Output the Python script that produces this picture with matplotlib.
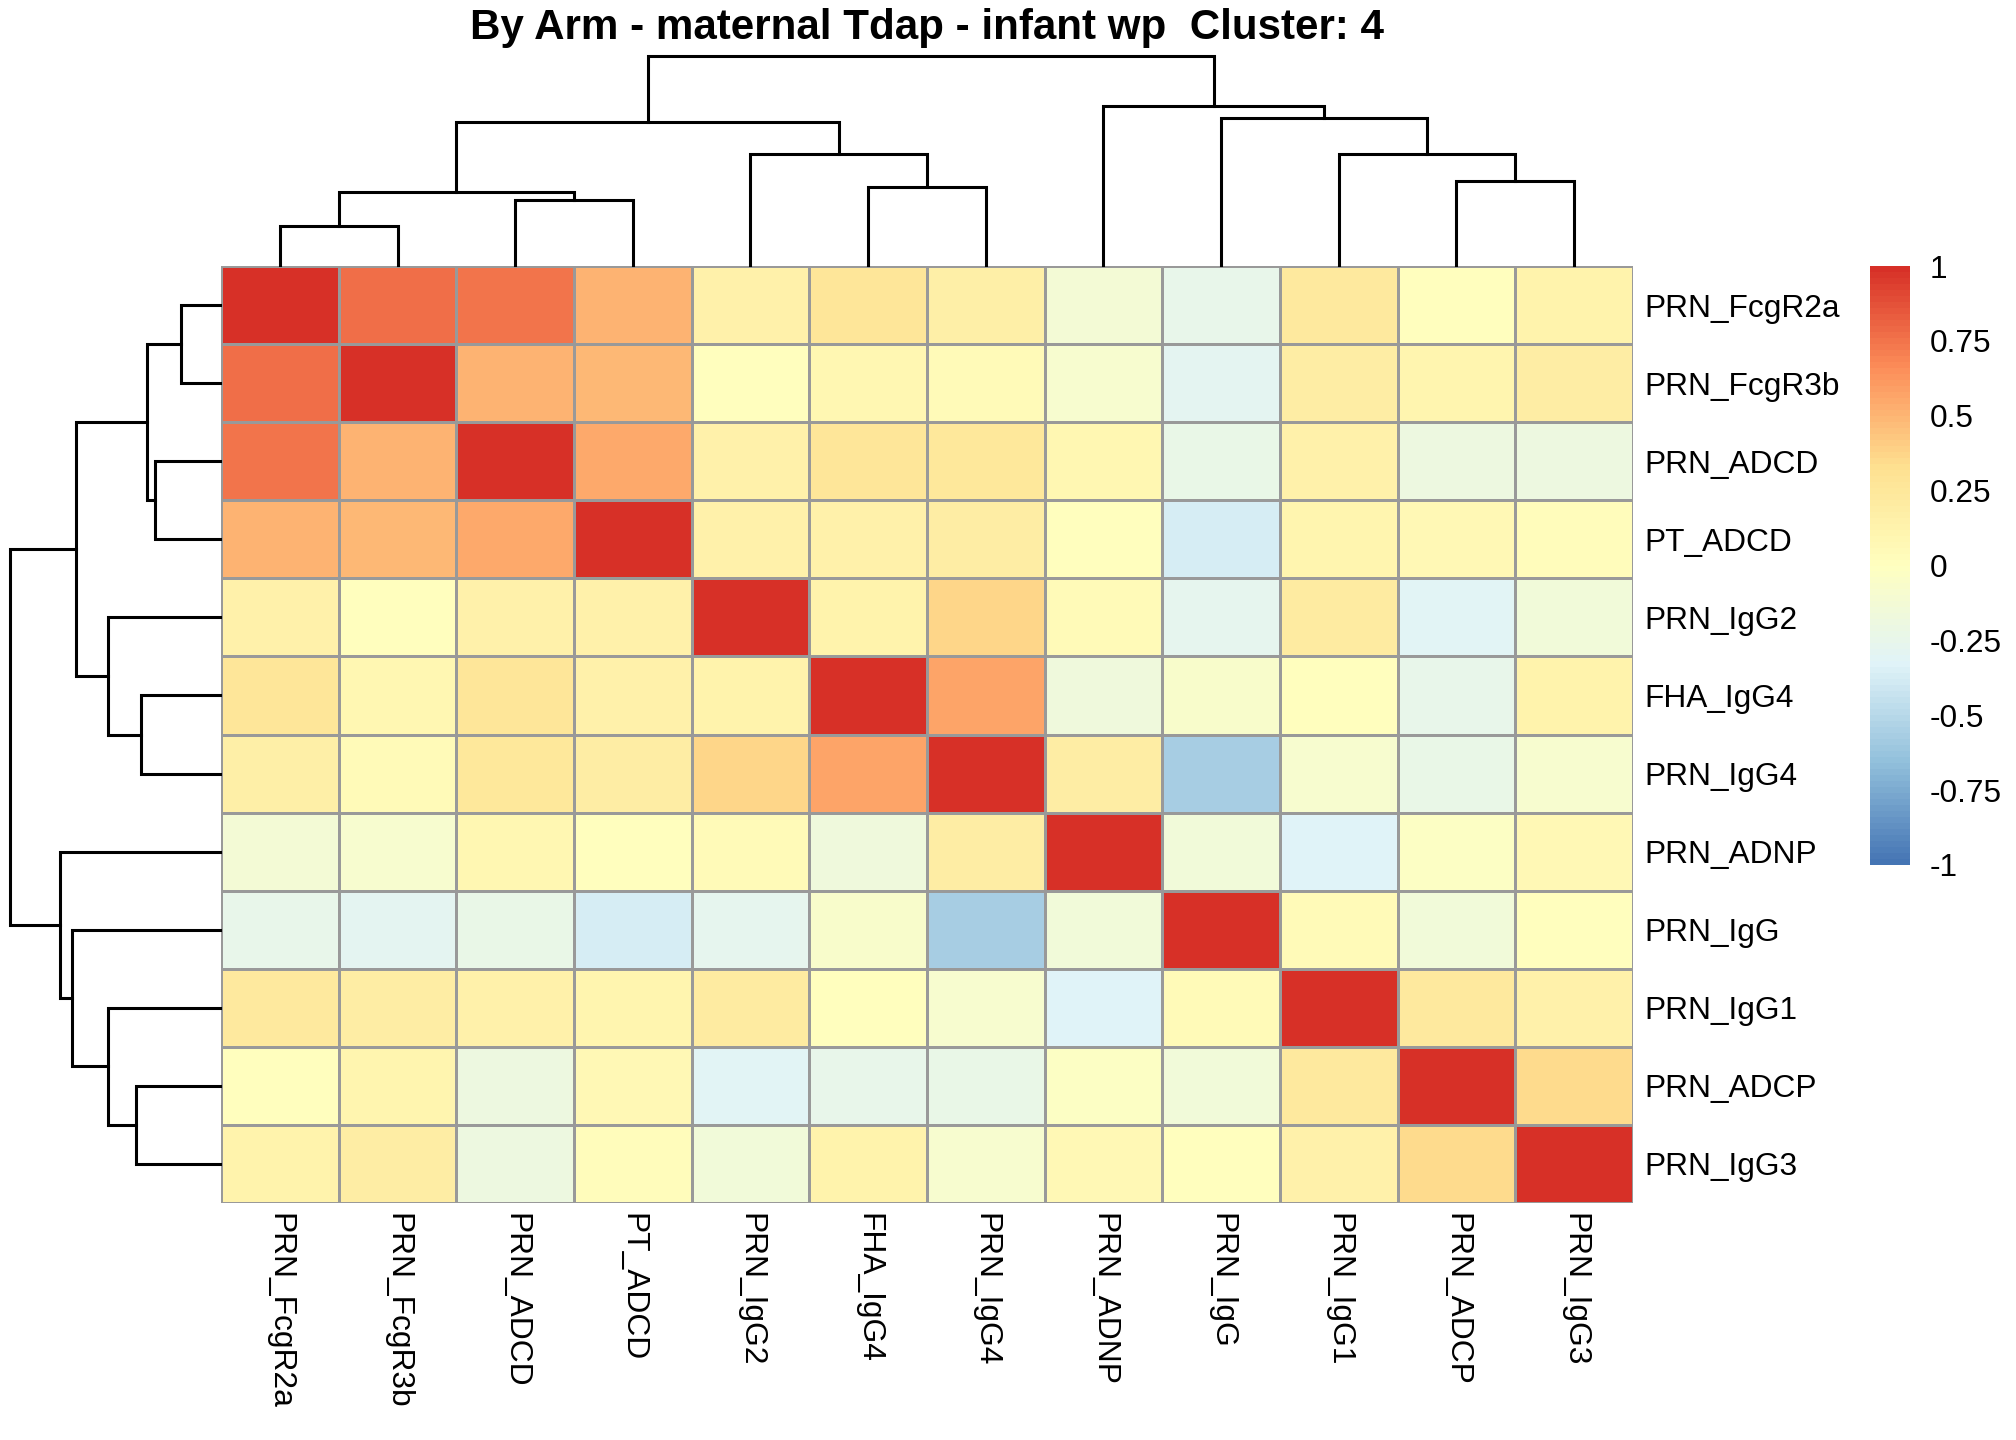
import numpy as np
import matplotlib
matplotlib.use("Agg")
import matplotlib.pyplot as plt
from matplotlib.colors import LinearSegmentedColormap

# ---------------- data ----------------
labels = ["PRN_FcgR2a", "PRN_FcgR3b", "PRN_ADCD", "PT_ADCD", "PRN_IgG2", "FHA_IgG4",
          "PRN_IgG4", "PRN_ADNP", "PRN_IgG", "PRN_IgG1", "PRN_ADCP", "PRN_IgG3"]

corr = [
    [1.00, 0.77, 0.75, 0.50, 0.14, 0.27, 0.17, -0.14, -0.25, 0.22, 0.01, 0.13],
    [0.77, 1.00, 0.51, 0.48, 0.01, 0.08, 0.05, -0.10, -0.30, 0.19, 0.11, 0.19],
    [0.75, 0.51, 1.00, 0.54, 0.14, 0.27, 0.25, 0.08, -0.24, 0.15, -0.19, -0.20],
    [0.50, 0.48, 0.54, 1.00, 0.15, 0.15, 0.19, 0.00, -0.37, 0.11, 0.06, 0.035],
    [0.14, 0.01, 0.14, 0.15, 1.00, 0.13, 0.36, 0.04, -0.28, 0.20, -0.32, -0.15],
    [0.27, 0.08, 0.27, 0.15, 0.13, 1.00, 0.56, -0.17, -0.07, 0.005, -0.26, 0.13],
    [0.17, 0.05, 0.25, 0.19, 0.36, 0.56, 1.00, 0.18, -0.57, -0.10, -0.24, -0.10],
    [-0.14, -0.10, 0.08, 0.00, 0.04, -0.17, 0.18, 1.00, -0.15, -0.33, -0.035, 0.075],
    [-0.25, -0.30, -0.24, -0.37, -0.28, -0.07, -0.57, -0.15, 1.00, 0.05, -0.155, 0.00],
    [0.22, 0.19, 0.15, 0.11, 0.20, 0.005, -0.10, -0.33, 0.05, 1.00, 0.23, 0.16],
    [0.01, 0.11, -0.19, 0.06, -0.32, -0.26, -0.24, -0.035, -0.155, 0.23, 1.00, 0.35],
    [0.13, 0.19, -0.20, 0.035, -0.15, 0.13, -0.10, 0.075, 0.00, 0.16, 0.35, 1.00],
]

# hierarchical merges (same tree for rows and columns): child a, child b, height
merge_a = [0, 2, 12, 5, 4, 14, 10, 9, 8, 7, 17]
merge_b = [1, 3, 13, 6, 15, 16, 11, 18, 19, 20, 21]
merge_h = [0.185, 0.31, 0.347, 0.375, 0.533, 0.684, 0.40, 0.533, 0.705, 0.76, 1.0]

legend_ticks = [1, 0.75, 0.5, 0.25, 0, -0.25, -0.5, -0.75, -1]
legend_labels = ["1", "0.75", "0.5", "0.25", "0", "-0.25", "-0.5", "-0.75", "-1"]

title = "By Arm - maternal Tdap - infant wp  Cluster: 4"

# ---------------- style ----------------
plt.rcParams["font.family"] = ["Liberation Sans", "DejaVu Sans"]
W, H = 2016, 1440
fig = plt.figure(figsize=(W / 100, H / 100), dpi=100)

brew = ["#4575B4", "#91BFDB", "#E0F3F8", "#FFFFBF", "#FEE090", "#FC8D59", "#D73027"]
cmap = LinearSegmentedColormap.from_list("rdylbu_r", brew, N=100)


def px_axes(x0, y0, x1, y1):
    return fig.add_axes([x0 / W, 1 - y1 / H, (x1 - x0) / W, (y1 - y0) / H])


n = len(labels)
M = np.array(corr)

# heatmap
axh = px_axes(221, 266, 1633, 1203)
mesh = axh.pcolormesh(np.arange(n + 1), np.arange(n + 1), M, cmap=cmap, vmin=-1, vmax=1,
                      edgecolors="#999999", linewidth=2.0)
axh.set_xlim(0, n)
axh.set_ylim(n, 0)
for s in axh.spines.values():
    s.set_visible(False)
axh.set_xticks(np.arange(n) + 0.5)
axh.set_xticklabels(labels, rotation=-90, fontsize=22.9)
axh.set_yticks(np.arange(n) + 0.5)
axh.set_yticklabels(labels, fontsize=22.8)
axh.yaxis.tick_right()
axh.tick_params(axis="x", length=0, pad=7)
axh.tick_params(axis="y", length=0, pad=8.5)
for t in axh.get_yticklabels():
    t.set_verticalalignment("center_baseline")


def draw_dendro(ax, orient):
    pos = {i: i + 0.5 for i in range(n)}
    hgt = {i: 0.0 for i in range(n)}
    for k, (a, b, h) in enumerate(zip(merge_a, merge_b, merge_h)):
        xa, xb = pos[a], pos[b]
        ha, hb = hgt[a], hgt[b]
        if orient == "top":
            ax.plot([xa, xa, xb, xb], [ha, h, h, hb], color="black", lw=2.2,
                    clip_on=False, solid_capstyle="projecting", solid_joinstyle="miter")
        else:
            ax.plot([ha, h, h, hb], [xa, xa, xb, xb], color="black", lw=2.2,
                    clip_on=False, solid_capstyle="projecting", solid_joinstyle="miter")
        pos[n + k] = (xa + xb) / 2
        hgt[n + k] = h
    ax.axis("off")


top_h = max(merge_h)
axt = px_axes(221, 56, 1633, 265)
draw_dendro(axt, "top")
axt.set_xlim(0, n)
axt.set_ylim(0, top_h)

axl = px_axes(10, 266, 220, 1203)
draw_dendro(axl, "left")
axl.set_ylim(n, 0)
axl.set_xlim(top_h, 0)

# legend
axc = px_axes(1870, 266, 1910, 865)
cb = fig.colorbar(mesh, cax=axc, ticks=legend_ticks)
cb.ax.set_yticklabels(legend_labels, fontsize=22.8)
cb.outline.set_visible(False)
cb.ax.tick_params(length=0, pad=14)
for t in cb.ax.get_yticklabels():
    t.set_verticalalignment("center_baseline")

fig.text(927 / W, 1 - 39 / H, title, ha="center", va="baseline",
         fontsize=30.3, fontweight="bold")

fig.savefig("out.png", dpi=100, facecolor="white")
